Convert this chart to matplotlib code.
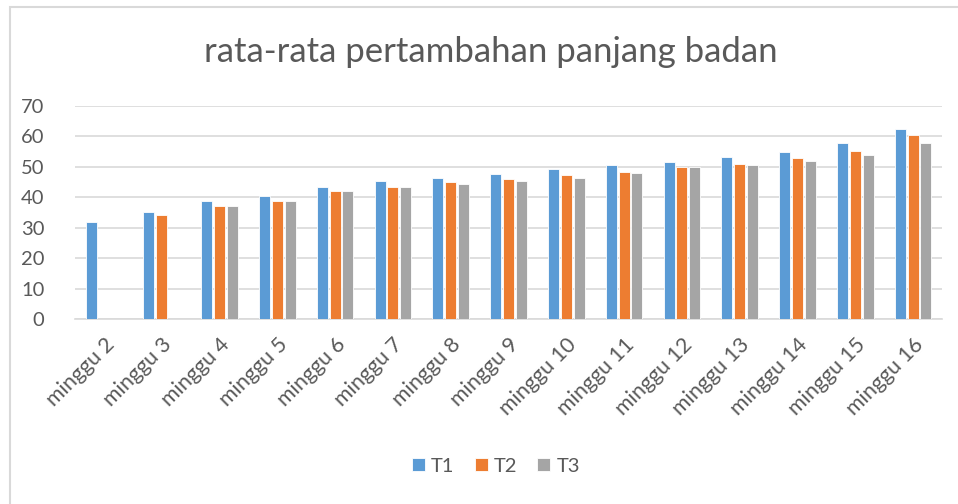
import numpy as np
import matplotlib
matplotlib.use("Agg")
import matplotlib.pyplot as plt
from matplotlib.patches import Rectangle

plt.rcParams["font.family"] = ["Lato", "DejaVu Sans"]

weeks = ["minggu 2", "minggu 3", "minggu 4", "minggu 5", "minggu 6", "minggu 7",
         "minggu 8", "minggu 9", "minggu 10", "minggu 11", "minggu 12", "minggu 13",
         "minggu 14", "minggu 15", "minggu 16"]
t1 = [31.9, 35.2, 38.8, 40.4, 43.3, 45.4, 46.3, 47.5, 49.3, 50.5, 51.5, 53.3, 54.9, 57.9, 62.6]
t2 = [np.nan, 34.1, 37.1, 38.8, 42.2, 43.3, 45.0, 45.9, 47.2, 48.4, 49.8, 51.0, 52.8, 55.3, 60.4]
t3 = [np.nan, np.nan, 37.1, 38.8, 42.2, 43.3, 44.5, 45.4, 46.3, 48.0, 49.8, 50.6, 51.9, 54.0, 57.9]

colors = ["#5B9BD5", "#ED7D31", "#A5A5A5"]
text_col = "#595959"

fig = plt.figure(figsize=(9.58, 5.04), dpi=100)
ax = fig.add_axes([75 / 958, 1 - 319 / 504, 867 / 958, 213 / 504])

# chart frame
fig.patches.append(Rectangle((10 / 958, -0.1), 1.0, 1 - 7 / 504 + 0.1,
                             transform=fig.transFigure, fill=False,
                             edgecolor="#D9D9D9", linewidth=1.5))

x = np.arange(len(weeks))
w = 0.19
off = 0.22
for i, (vals, name) in enumerate(zip([t1, t2, t3], ["T1", "T2", "T3"])):
    ax.bar(x + (i - 1) * off, vals, width=w, color=colors[i], label=name,
           edgecolor="white", linewidth=0.6, zorder=3)

ax.set_xlim(-0.5, len(weeks) - 0.5)
ax.set_ylim(0, 70)
ax.set_yticks(range(0, 71, 10))
ax.yaxis.grid(True, color="#D9D9D9", linewidth=1.2, zorder=0)
for s in ["top", "right", "left"]:
    ax.spines[s].set_visible(False)
ax.spines["bottom"].set_color("#D9D9D9")
ax.spines["bottom"].set_linewidth(1.2)
ax.tick_params(axis="both", length=0, colors=text_col)
ax.tick_params(axis="y", pad=22, labelsize=14.5)
ax.set_xticks(x)
ax.set_xticklabels(weeks, rotation=45, ha="right", rotation_mode="anchor")
ax.tick_params(axis="x", pad=11, labelsize=15.5)

fig.text(491 / 958, 1 - 52 / 504, "rata-rata pertambahan panjang badan",
         ha="center", va="center", fontsize=25, color=text_col)

leg = fig.legend(loc="center", bbox_to_anchor=(496 / 958, 1 - 466 / 504), ncol=3,
                 frameon=False, fontsize=14.5, handlelength=0.65, handleheight=0.65,
                 handletextpad=0.3, columnspacing=1.0)
for t in leg.get_texts():
    t.set_color(text_col)

fig.savefig("out.png", dpi=100)
